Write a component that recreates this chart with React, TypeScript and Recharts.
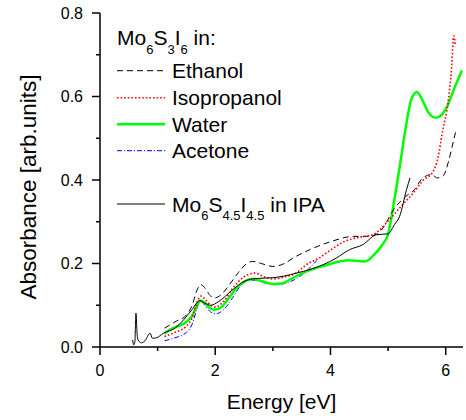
import { LineChart, Line, XAxis, YAxis, Label } from "recharts";

const FONT = '"Liberation Sans", Arial, Helvetica, sans-serif';

type Pt = [number, number];

// energy [eV], absorbance [arb.units]
const ETHANOL: Pt[] = [
  [1.12, 0.045], [1.3, 0.06], [1.5, 0.077], [1.6, 0.1], [1.68, 0.135], [1.75, 0.149],
  [1.83, 0.14], [1.92, 0.122], [2.0, 0.118], [2.1, 0.125], [2.25, 0.15], [2.4, 0.178],
  [2.55, 0.2], [2.65, 0.205], [2.8, 0.2], [3.0, 0.193], [3.2, 0.2], [3.35, 0.213],
  [3.64, 0.233], [3.85, 0.245], [4.04, 0.254], [4.4, 0.265], [4.62, 0.265], [4.8, 0.27],
  [4.91, 0.285], [5.1, 0.33], [5.3, 0.36], [5.46, 0.377], [5.57, 0.4], [5.75, 0.413],
  [5.86, 0.405], [5.95, 0.409], [6.05, 0.445], [6.1, 0.473], [6.17, 0.514],
];

const ISOPROPANOL: Pt[] = [
  [1.12, 0.025], [1.3, 0.035], [1.5, 0.05], [1.6, 0.07], [1.68, 0.105], [1.75, 0.122],
  [1.82, 0.115], [1.92, 0.1], [2.0, 0.096], [2.15, 0.11], [2.3, 0.14], [2.5, 0.168],
  [2.69, 0.177], [2.85, 0.168], [3.0, 0.163], [3.2, 0.168], [3.4, 0.177], [3.58, 0.197],
  [3.8, 0.213], [4.0, 0.232], [4.2, 0.25], [4.4, 0.26], [4.6, 0.265], [4.75, 0.27],
  [4.97, 0.297], [5.2, 0.333], [5.46, 0.373], [5.6, 0.398], [5.78, 0.42], [5.86, 0.45],
  [5.95, 0.52], [6.04, 0.585], [6.1, 0.665], [6.14, 0.745], [6.17, 0.72],
];

const WATER: Pt[] = [
  [1.12, 0.032], [1.2, 0.04], [1.35, 0.05], [1.5, 0.06], [1.6, 0.075], [1.68, 0.098],
  [1.74, 0.111], [1.8, 0.108], [1.9, 0.094], [2.0, 0.089], [2.1, 0.095], [2.25, 0.12],
  [2.4, 0.145], [2.55, 0.16], [2.65, 0.163], [2.8, 0.158], [3.0, 0.151], [3.15, 0.152],
  [3.3, 0.162], [3.5, 0.176], [3.7, 0.187], [3.9, 0.195], [4.1, 0.203], [4.3, 0.208],
  [4.6, 0.205], [4.75, 0.22], [4.9, 0.245], [5.0, 0.27], [5.1, 0.345], [5.2, 0.43],
  [5.3, 0.52], [5.4, 0.592], [5.5, 0.611], [5.6, 0.59], [5.7, 0.562], [5.82, 0.549],
  [5.92, 0.555], [6.02, 0.575], [6.15, 0.62], [6.28, 0.662],
];

const ACETONE: Pt[] = [
  [1.12, 0.015], [1.3, 0.022], [1.5, 0.035], [1.6, 0.055], [1.68, 0.09], [1.74, 0.11],
  [1.82, 0.1], [1.92, 0.084], [2.02, 0.08], [2.15, 0.09], [2.3, 0.118], [2.45, 0.148],
  [2.6, 0.16], [2.7, 0.16], [2.85, 0.154], [3.05, 0.149], [3.2, 0.152], [3.4, 0.163],
  [3.55, 0.178], [3.68, 0.195], [3.76, 0.207],
];

const MO6S45I45_IPA: Pt[] = [
  [0.566, 0.017], [0.585, 0.005], [0.605, 0.012], [0.624, 0.081], [0.645, 0.03],
  [0.66, 0.017], [0.72, 0.01], [0.78, 0.015], [0.87, 0.033], [0.91, 0.021], [0.98, 0.022],
  [1.1, 0.033], [1.3, 0.045], [1.45, 0.065], [1.6, 0.09], [1.73, 0.111], [1.82, 0.105],
  [1.92, 0.1], [2.05, 0.108], [2.31, 0.138], [2.5, 0.157], [2.65, 0.163], [2.85, 0.165],
  [3.0, 0.166], [3.2, 0.17], [3.41, 0.177], [3.65, 0.186], [3.87, 0.197], [4.1, 0.213],
  [4.33, 0.233], [4.56, 0.245], [4.8, 0.269], [5.0, 0.271], [5.11, 0.293], [5.2, 0.313],
  [5.32, 0.377], [5.38, 0.405],
];

const X_TICKS = [0, 1, 2, 3, 4, 5, 6];
const Y_TICKS = [0, 0.1, 0.2, 0.3, 0.4, 0.5, 0.6, 0.7, 0.8];

const toRows = (pts: Pt[]) => pts.map(([x, y]) => ({ x, y }));

function BottomTick({ x, y, payload }: any) {
  const major = payload.value % 2 === 0;
  return (
    <g>
      <line x1={x} x2={x} y1={y} y2={y + (major ? 8 : 4)} stroke="#000" strokeWidth={1.5} />
      {major && (
        <text x={x} y={y + 29} textAnchor="middle" fontSize={16} fontFamily={FONT} fill="#000">
          {payload.value}
        </text>
      )}
    </g>
  );
}

function LeftTick({ x, y, payload }: any) {
  const major = Math.round(payload.value * 10) % 2 === 0;
  return (
    <g>
      <line x1={x - (major ? 8 : 4)} x2={x} y1={y} y2={y} stroke="#000" strokeWidth={1.5} />
      {major && (
        <text x={x - 17} y={y + 5.7} textAnchor="end" fontSize={16} fontFamily={FONT} fill="#000">
          {payload.value.toFixed(1)}
        </text>
      )}
    </g>
  );
}

function TopTick({ x, y }: any) {
  return <line x1={x} x2={x} y1={y} y2={y - 3} stroke="#000" strokeWidth={1} />;
}

function RightTick({ x, y }: any) {
  return <line x1={x - 4} x2={x} y1={y} y2={y} stroke="#000" strokeWidth={1} />;
}

function Legend() {
  const lx1 = 117;
  const lx2 = 165;
  const tx = 172;
  const rows = [
    { y: 70.7, name: "Ethanol", stroke: "#000", width: 1, dash: "6 4" },
    { y: 97.7, name: "Isopropanol", stroke: "#ff0000", width: 1.6, dash: "1.6 2" },
    { y: 124.3, name: "Water", stroke: "#00ff00", width: 2.5, dash: undefined },
    { y: 150.7, name: "Acetone", stroke: "#0000ff", width: 1, dash: "5 2 1 2" },
  ];
  return (
    <svg
      width={466}
      height={420}
      style={{ position: "absolute", left: 0, top: 0, pointerEvents: "none" }}
      fontFamily={FONT}
      fill="#000"
    >
      <text
        x={36}
        y={187}
        fontSize={22.5}
        textAnchor="middle"
        transform="rotate(-90 36 187)"
      >
        Absorbance [arb.units]
      </text>
      <text x={117} y={45} fontSize={21}>
        Mo<tspan fontSize={13} dy={9}>6</tspan>
        <tspan dy={-9}>S</tspan>
        <tspan fontSize={13} dy={9}>3</tspan>
        <tspan dy={-9}>I</tspan>
        <tspan fontSize={13} dy={9}>6</tspan>
        <tspan dy={-9}> in:</tspan>
      </text>
      {rows.map((r) => (
        <g key={r.name}>
          <line x1={lx1} x2={lx2} y1={r.y} y2={r.y} stroke={r.stroke} strokeWidth={r.width} strokeDasharray={r.dash} />
          <text x={tx} y={r.y + 7.5} fontSize={21}>
            {r.name}
          </text>
        </g>
      ))}
      <line x1={lx1} x2={lx2} y1={204} y2={204} stroke="#000" strokeWidth={1} />
      <text x={tx} y={211.7} fontSize={21}>
        Mo<tspan fontSize={13} dy={8}>6</tspan>
        <tspan dy={-8}>S</tspan>
        <tspan fontSize={13} dy={8}>4.5</tspan>
        <tspan dy={-8}>I</tspan>
        <tspan fontSize={13} dy={8}>4.5</tspan>
        <tspan dy={-8}> in IPA</tspan>
      </text>
    </svg>
  );
}

export default function App() {
  return (
    <div style={{ position: "absolute", left: 0, top: 0, width: 466, height: 420, background: "#fff" }}>
      <LineChart width={466} height={420} margin={{ top: 13, right: 3, bottom: 0, left: 20 }}>
        <XAxis
          dataKey="x"
          type="number"
          domain={[0, 6.3]}
          ticks={X_TICKS}
          interval={0}
          allowDataOverflow
          height={73}
          tickSize={0}
          tickMargin={0}
          tickLine={false}
          tick={<BottomTick />}
          axisLine={{ stroke: "#000", strokeWidth: 1.5 }}
        >
          <Label
            value="Energy [eV]"
            position="insideBottom"
            offset={11}
            style={{ fontSize: 21, fontFamily: FONT, fill: "#000" }}
          />
        </XAxis>
        <XAxis
          xAxisId="top"
          orientation="top"
          dataKey="x"
          type="number"
          domain={[0, 6.3]}
          ticks={X_TICKS}
          interval={0}
          allowDataOverflow
          height={0}
          tickSize={0}
          tickMargin={0}
          tickLine={false}
          tick={<TopTick />}
          axisLine={{ stroke: "#000", strokeWidth: 1.5 }}
        />
        <YAxis
          type="number"
          domain={[0, 0.8]}
          ticks={Y_TICKS}
          interval={0}
          allowDataOverflow
          width={80}
          tickSize={0}
          tickMargin={0}
          tickLine={false}
          tick={<LeftTick />}
          axisLine={{ stroke: "#000", strokeWidth: 1.5 }}
        />
        <YAxis
          yAxisId="right"
          orientation="right"
          type="number"
          domain={[0, 0.8]}
          ticks={Y_TICKS}
          interval={0}
          allowDataOverflow
          width={0}
          tickSize={0}
          tickMargin={0}
          tickLine={false}
          tick={<RightTick />}
          axisLine={{ stroke: "#000", strokeWidth: 1.5 }}
        />
        <Line
          data={toRows(ACETONE)}
          dataKey="y"
          type="monotone"
          stroke="#0000ff"
          strokeWidth={1}
          strokeDasharray="5 2 1 2"
          dot={false}
          isAnimationActive={false}
        />
        <Line
          data={toRows(WATER)}
          dataKey="y"
          type="monotone"
          stroke="#00ff00"
          strokeWidth={2.5}
          dot={false}
          isAnimationActive={false}
        />
        <Line
          data={toRows(ETHANOL)}
          dataKey="y"
          type="monotone"
          stroke="#000"
          strokeWidth={1}
          strokeDasharray="6 4"
          dot={false}
          isAnimationActive={false}
        />
        <Line
          data={toRows(ISOPROPANOL)}
          dataKey="y"
          type="monotone"
          stroke="#ff0000"
          strokeWidth={1.6}
          strokeDasharray="1.6 2"
          dot={false}
          isAnimationActive={false}
        />
        <Line
          data={toRows(MO6S45I45_IPA)}
          dataKey="y"
          type="monotone"
          stroke="#000"
          strokeWidth={1}
          dot={false}
          isAnimationActive={false}
        />
      </LineChart>
      <Legend />
    </div>
  );
}
